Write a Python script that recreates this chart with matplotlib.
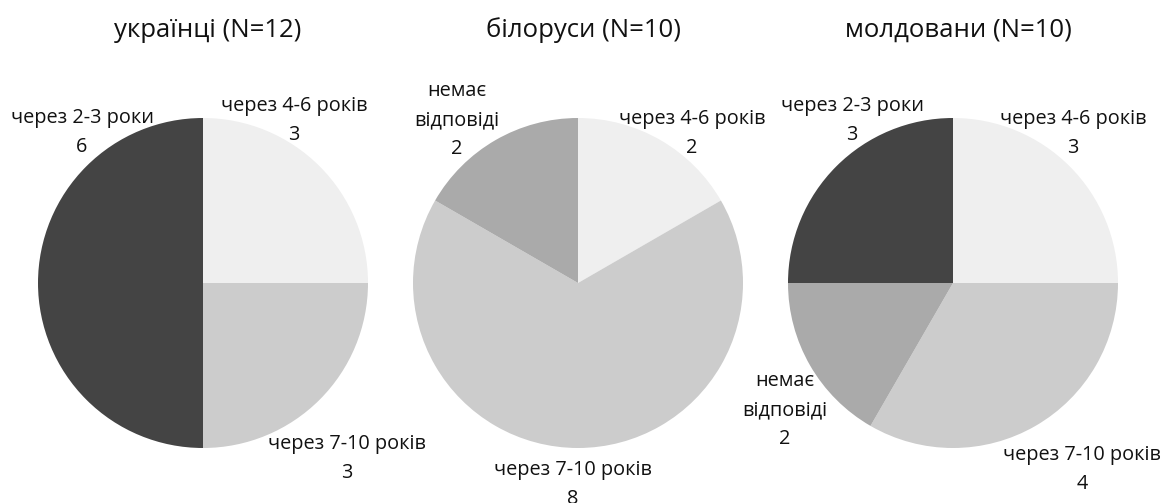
import matplotlib
matplotlib.use("Agg")
import matplotlib.pyplot as plt

plt.rcParams['font.family'] = ['Open Sans', 'DejaVu Sans']

titles = ["українці (N=12)", "білоруси (N=10)", "молдовани (N=10)"]

ua_labels = ["через 4-6 років", "через 7-10 років", "через 2-3 роки"]
ua_values = [3, 3, 6]
by_labels = ["через 4-6 років", "через 7-10 років", "немає\nвідповіді"]
by_values = [2, 8, 2]
md_labels = ["через 4-6 років", "через 7-10 років", "немає\nвідповіді", "через 2-3 роки"]
md_values = [3, 4, 2, 3]

colour_map = {
    "через 4-6 років": "#efefef",
    "через 7-10 років": "#cccccc",
    "через 2-3 роки": "#444444",
    "немає\nвідповіді": "#aaaaaa",
}

# label anchor positions (in units of pie radius) - layout only
label_pos = [
    [(0.552, 0.982), (0.873, -1.061), (-0.733, 0.915)],
    [(0.691, 0.909), (-0.030, -1.224), (-0.733, 0.988)],
    [(0.727, 0.909), (0.782, -1.133), (-1.018, -0.770), (-0.612, 0.982)],
]

W, H = 1167, 503
fig = plt.figure(figsize=(W / 100, H / 100), dpi=100)
centres_x = [203, 578, 953]
cy = 283
R = 165

datasets = [(ua_labels, ua_values), (by_labels, by_values), (md_labels, md_values)]
for i, (labels, values) in enumerate(datasets):
    cx = centres_x[i]
    ax = fig.add_axes([(cx - R) / W, (H - cy - R) / H, 2 * R / W, 2 * R / H])
    ax.pie(values, colors=[colour_map[l] for l in labels], startangle=90,
           counterclock=False, radius=1,
           wedgeprops=dict(linewidth=0, edgecolor='none'))
    ax.set_xlim(-1, 1)
    ax.set_ylim(-1, 1)
    ax.set_aspect('equal')
    ax.axis('off')
    for lab, val, (px, py) in zip(labels, values, label_pos[i]):
        ax.text(px, py, f"{lab}\n{val}", ha='center', va='center',
                fontsize=14.3, linespacing=1.6, color='#111111', clip_on=False)
    fig.text((cx + 5) / W, 1 - 37 / H, titles[i], ha='center', va='baseline',
             fontsize=18.5, color='#111111')

fig.savefig("out.png", dpi=100)
